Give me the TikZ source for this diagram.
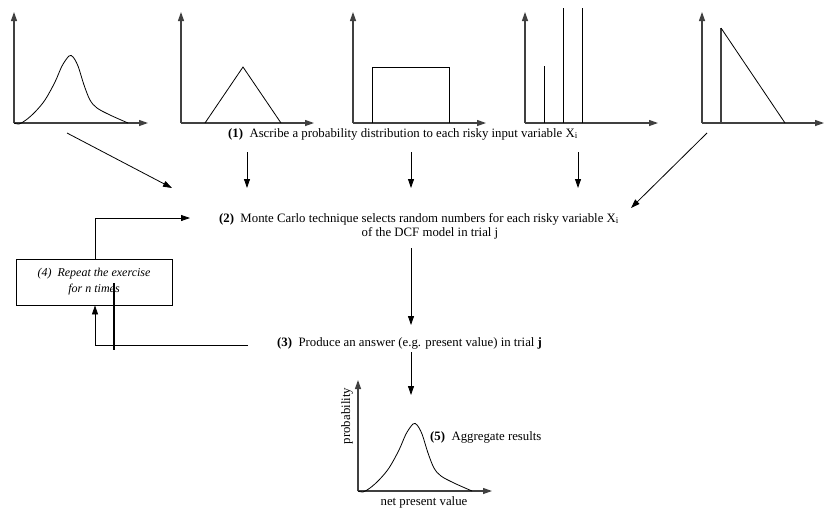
\documentclass[tikz,border=0pt]{standalone}
\usepackage{fontspec}
\setmainfont{Liberation Serif}
\usetikzlibrary{arrows.meta}
\begin{document}
\begin{tikzpicture}[x=1pt,y=-1pt,
  axis/.style={draw=black!75,line width=1.2pt,-{Triangle[length=9pt,width=6pt]}},
  curve/.style={draw=black,line width=0.8pt},
  edge/.style={draw=black!75,line width=1.2pt},
  flow/.style={draw=black,line width=0.8pt,-{Triangle[length=9pt,width=6pt]}},
  label/.style={font=\fontsize{12.8}{14}\selectfont,inner sep=1pt},
  loopbox/.style={draw=black,line width=0.8pt,minimum width=156pt,minimum height=46pt,
    align=center,font=\fontsize{12}{16}\selectfont\itshape,inner sep=0pt}]
\useasboundingbox (0,0) rectangle (824,509);

% density shape reused by the first and the last chart
\def\bellpts{(14,123) (19,124) (26,120) (35,112) (45,100) (55,82) (62,66) (69,56) (73,57) (78,66) (84,85) (90,100) (97,108) (110,115) (128,123)}

% chart 1: skewed bell curve
\draw[axis] (14,123) -- (14,12);
\draw[axis] (14,123) -- (148,123);
\draw[curve] plot[smooth,tension=0.55] coordinates {\bellpts};

% chart 2: triangular
\draw[axis] (181,123) -- (181,12);
\draw[axis] (181,123) -- (314,123);
\draw[curve] (205,123) -- (243,67) -- (281,123);

% chart 3: uniform
\draw[axis] (353,123) -- (353,12);
\draw[axis] (353,123) -- (486,123);
\draw[curve] (372,123) -- (372,67) -- (449,67) -- (449,123);

% chart 4: discrete
\draw[axis] (525,123) -- (525,12);
\draw[axis] (525,123) -- (658,123);
\draw[curve] (544,123) -- (544,66);
\draw[curve] (563,123) -- (563,8);
\draw[curve] (582,123) -- (582,8);

% chart 5: right triangular
\draw[axis] (702,123) -- (702,12);
\draw[axis] (702,123) -- (824,123);
\draw[edge] (721,123) -- (721,28);
\draw[curve] (721,28) -- (785,123);

% step texts
\node[label,anchor=west] (s1) at (227,134) {\textbf{(1)}\ \ Ascribe a probability distribution to each risky input variable X\textsubscript{i}};
\node[label,align=center] (s2) at (419,226) {\textbf{(2)}\ \ Monte Carlo technique selects random numbers for each risky variable X\textsubscript{i}\\\hspace*{22pt}of the DCF model in trial j};
\node[label,anchor=west] (s3) at (276,343) {\textbf{(3)}\ \ Produce an answer (e.g. present value) in trial \textbf{j}};
\node[loopbox] (s4) at (94,282) {(4)\ \ Repeat the exercise\\for n times};
\node[label,anchor=west] (s5) at (429,437) {\textbf{(5)}\ \ Aggregate results};

% arrow end points
\coordinate (c1) at (67,133);
\coordinate (c1e) at (172,188);
\coordinate (a2) at (247,152);
\coordinate (a2e) at (247,188);
\coordinate (a3) at (411,152);
\coordinate (a3e) at (411,188);
\coordinate (a4) at (578,152);
\coordinate (a4e) at (578,188);
\coordinate (c5) at (707,133);
\coordinate (c5e) at (631,208);
\coordinate (m2) at (411,248);
\coordinate (m2e) at (411,325);
\coordinate (r3) at (248,345);
\coordinate (into2) at (190,218);
\coordinate (m3) at (411,352);
\coordinate (m3e) at (411,395);

\draw[flow] (c1) -- (c1e);
\draw[flow] (a2) -- (a2e);
\draw[flow] (a3) -- (a3e);
\draw[flow] (a4) -- (a4e);
\draw[flow] (c5) -- (c5e);
\draw[flow] (m2) -- (m2e);
\draw[flow] (r3) -- (95,345) -- (s4.south -| 95,0);
\draw[flow] (s4.north -| 95,0) -- (95,218) -- (into2);
\draw[line width=1.6pt] (114,283) -- (114,350);
\draw[flow] (m3) -- (m3e);

% chart 6: aggregated result
\draw[axis] (358,491) -- (358,380);
\draw[axis] (358,491) -- (492,491);
\draw[curve,shift={(344,368)}] plot[smooth,tension=0.55] coordinates {\bellpts};
\node[label,rotate=90] (py) at (347,416) {probability};
\node[label] (px) at (424,502) {net present value};
\end{tikzpicture}
\end{document}
